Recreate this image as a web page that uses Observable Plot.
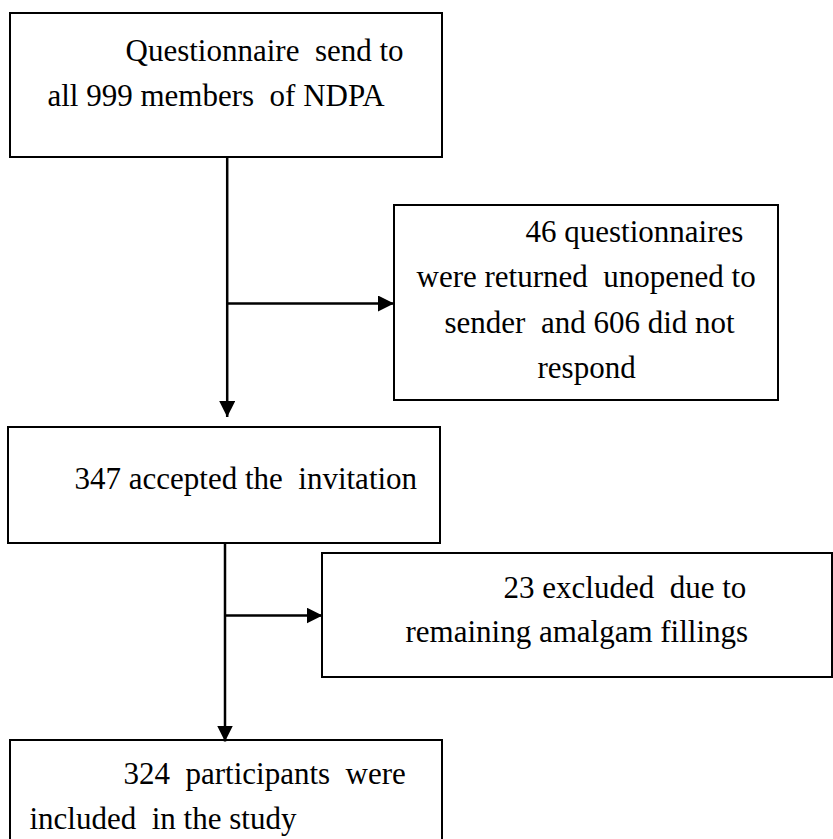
<!DOCTYPE html>
<html>
<head>
<meta charset="utf-8">
<script src="https://cdn.jsdelivr.net/npm/d3@7"></script>
<script src="https://cdn.jsdelivr.net/npm/@observablehq/plot@0.6"></script>
<style>
  html, body { margin: 0; padding: 0; background: #fff; overflow: hidden; }
  svg text { white-space: pre; }
</style>
</head>
<body>
<div id="chart"></div>
<script>
// ---- Content (text of each flowchart step, line by line) ----
const box1Lines = ["Questionnaire  send to", "all 999 members  of NDPA"];
const box2Lines = ["46 questionnaires", "were returned  unopened to", "sender  and 606 did not", "respond"];
const box3Lines = ["347 accepted the  invitation"];
const box4Lines = ["23 excluded  due to", "remaining amalgam fillings"];
const box5Lines = ["324  participants  were", "included  in the study"];

// ---- Layout (page geometry of the flowchart) ----
const layout = [
  {lines: box1Lines, x1: 10, x2: 442, y1: 13, y2: 157, starts: [125, 47], baselines: [60, 105]},
  {lines: box2Lines, x1: 394, x2: 778, y1: 205, y2: 400, starts: [525, 416, 444, 537], baselines: [241, 286, 332, 377]},
  {lines: box3Lines, x1: 8, x2: 440, y1: 427, y2: 543, starts: [74], baselines: [488]},
  {lines: box4Lines, x1: 322, x2: 832, y1: 553, y2: 677, starts: [503, 405], baselines: [597, 641]},
  {lines: box5Lines, x1: 10, x2: 442, y1: 740, y2: 860, starts: [123, 29], baselines: [783, 828]}
];
const connectors = [
  {x1: 226.7, y1: 157, x2: 226.7, y2: 416.5},
  {x1: 226.7, y1: 303, x2: 393.5, y2: 303},
  {x1: 224.5, y1: 543, x2: 224.5, y2: 741},
  {x1: 224.5, y1: 615, x2: 322, y2: 615}
];

const boxes = layout.map(({x1, x2, y1, y2}) => ({x1, x2, y1, y2}));
const textRows = layout.flatMap(b => b.lines.map((t, i) => ({text: t, x: b.starts[i], y: b.baselines[i]})));

// custom filled arrowhead marker
function arrowHead(color) {
  const ns = "http://www.w3.org/2000/svg";
  const m = document.createElementNS(ns, "marker");
  m.setAttribute("viewBox", "0 0 16 16");
  m.setAttribute("markerUnits", "userSpaceOnUse");
  m.setAttribute("markerWidth", "16");
  m.setAttribute("markerHeight", "16");
  m.setAttribute("refX", "16");
  m.setAttribute("refY", "8");
  m.setAttribute("orient", "auto");
  const p = document.createElementNS(ns, "path");
  p.setAttribute("d", "M0,0L16,8L0,16Z");
  p.setAttribute("fill", color);
  p.setAttribute("stroke", "none");
  m.appendChild(p);
  return m;
}

const W = 833, H = 839;
const chart = Plot.plot({
  width: W,
  height: H,
  margin: 0,
  x: {domain: [0, W], range: [0, W], axis: null},
  y: {domain: [0, H], range: [0, H], axis: null},
  style: {background: "#fff", fontFamily: "'Liberation Serif', 'Times New Roman', serif"},
  marks: [
    Plot.rect(boxes, {x1: "x1", x2: "x2", y1: "y1", y2: "y2", fill: "#fff", stroke: "#000", strokeWidth: 2}),
    Plot.link(connectors, {x1: "x1", y1: "y1", x2: "x2", y2: "y2", stroke: "#000", strokeWidth: 2.5, markerEnd: arrowHead}),
    Plot.text(textRows, {x: "x", y: "y", text: "text", textAnchor: "start", lineAnchor: "bottom", fontSize: 31, fill: "#000"})
  ]
});
document.getElementById("chart").appendChild(chart);
</script>
</body>
</html>
